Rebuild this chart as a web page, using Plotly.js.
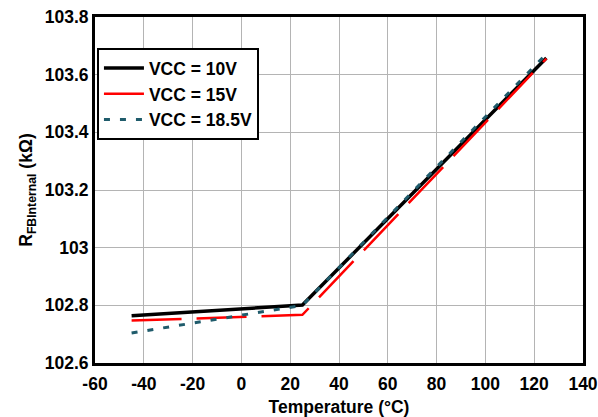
<!DOCTYPE html>
<html>
<head>
<meta charset="utf-8">
<script src="https://cdn.plot.ly/plotly-3.0.1.min.js"></script>
<style>html,body{margin:0;padding:0;background:#fff;}#chart{width:598px;height:417px;}</style>
</head>
<body>
<div id="chart"></div>
<script>
// Temperature (°C) and RFBInternal (kΩ)
var temp10 = [-45, 25, 125];
var r10 = [102.764, 102.801, 103.658];
var temp15 = [-45, 25, 125];
var r15 = [102.747, 102.767, 103.656];
var temp185 = [-45, 25, 125];
var r185 = [102.704, 102.800, 103.672];
var xTicks = [-60, -40, -20, 0, 20, 40, 60, 80, 100, 120, 140];
var yTicks = [102.6, 102.8, 103, 103.2, 103.4, 103.6, 103.8];
var yTickText = ['102.6', '102.8', '103', '103.2', '103.4', '103.6', '103.8'];

var FONT = 'Arial, "Liberation Sans", sans-serif';
var traces = [
  {x: temp10, y: r10, name: 'VCC = 10V', mode: 'lines', line: {color: '#000000', width: 3.5}},
  {x: temp15, y: r15, name: 'VCC = 15V', mode: 'lines', line: {color: '#ff0000', width: 2.5, dash: '50px,15px'}},
  {x: temp185, y: r185, name: 'VCC = 18.5V', mode: 'lines', line: {color: '#1f5b6b', width: 3, dash: '6px,10px'}}
];
var layout = {
  width: 598, height: 417,
  margin: {l: 95, r: 15, t: 17, b: 54},
  paper_bgcolor: '#ffffff', plot_bgcolor: '#ffffff',
  font: {family: FONT, size: 17, color: '#000'},
  showlegend: true,
  legend: {x: 0.004, y: 0.91, xanchor: 'left', yanchor: 'top', bgcolor: '#fff', bordercolor: '#000', borderwidth: 2,
           itemwidth: 40,
           font: {family: FONT, size: 17.5, color: '#000', weight: 'bold'}},
  xaxis: {
    range: [-60, 140], tickvals: xTicks, ticktext: xTicks.map(String), ticks: '',
    showgrid: true, gridcolor: '#b4b4b4', gridwidth: 1, zeroline: false,
    showline: true, linecolor: '#000', linewidth: 3, mirror: true,
    ticklabelstandoff: 3,
    tickfont: {family: FONT, size: 17.5, weight: 'bold'},
    title: {text: 'Temperature (°C)', font: {family: FONT, size: 17.5, weight: 'bold'}, standoff: 10}
  },
  yaxis: {
    range: [102.6, 103.8], tickvals: yTicks, ticktext: yTickText, ticks: '',
    showgrid: true, gridcolor: '#b4b4b4', gridwidth: 1, zeroline: false,
    showline: true, linecolor: '#000', linewidth: 3, mirror: true,
    tickfont: {family: FONT, size: 17.5, weight: 'bold'},
    title: {text: 'R<sub>FBInternal</sub> (kΩ)', font: {family: FONT, size: 17.5, weight: 'bold'}, standoff: 8}
  }
};
Plotly.newPlot('chart', traces, layout, {displayModeBar: false, staticPlot: true});
</script>
</body>
</html>
